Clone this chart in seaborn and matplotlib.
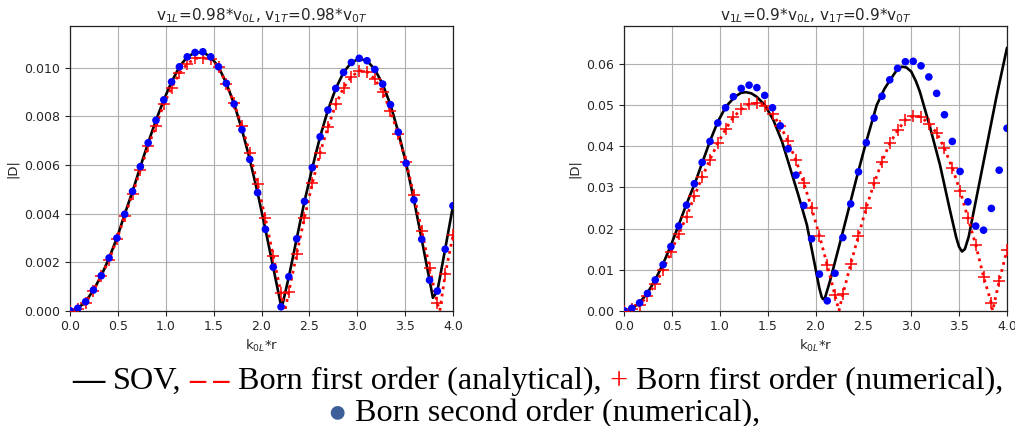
import numpy as np
import pandas as pd
import matplotlib
matplotlib.use("Agg")
import matplotlib.pyplot as plt
import seaborn as sns

# ---------------- data ----------------
k_samples = np.linspace(0.0, 4.0, 50)   # sample positions k0L*r of the numerical series

# left panel: v1L = 0.98 v0L
left_born2 = [0.0, 0.0001, 0.00037, 0.00085, 0.00144, 0.00217, 0.00299, 0.00397, 0.00491, 0.00593,
              0.00691, 0.00784, 0.00868, 0.00942, 0.01004, 0.01045, 0.01063, 0.01066, 0.01045, 0.01004,
              0.00936, 0.00851, 0.00745, 0.00623, 0.00486, 0.00335, 0.00179, 0.00016, 0.0014, 0.00296,
              0.0045, 0.00589, 0.00716, 0.00826, 0.00915, 0.00981, 0.01022, 0.01039, 0.01029, 0.00993,
              0.00933, 0.00848, 0.00735, 0.00607, 0.00456, 0.00294, 0.00126, 0.00081, 0.00253, 0.00432]
left_born1_num = [0.0, 0.00006, 0.00032, 0.00082, 0.00143, 0.00209, 0.00294, 0.0039, 0.0048, 0.00579,
                  0.00678, 0.0076, 0.00851, 0.00918, 0.00978, 0.01016, 0.01039, 0.01041, 0.01036, 0.01002,
                  0.00934, 0.00853, 0.0076, 0.00648, 0.00521, 0.0038, 0.00225, 0.00072, 0.00078, 0.00233,
                  0.00383, 0.00524, 0.0065, 0.00755, 0.00849, 0.00918, 0.00963, 0.00988, 0.00984, 0.00953,
                  0.00901, 0.00822, 0.00726, 0.00611, 0.00476, 0.00329, 0.00177, 0.0003, 0.0015, 0.0031]
left_sov_x = [0.0, 0.082, 0.163, 0.245, 0.327, 0.408, 0.49, 0.571, 0.653, 0.735, 0.816, 0.898, 0.98,
              1.061, 1.143, 1.224, 1.306, 1.388, 1.469, 1.551, 1.633, 1.714, 1.796, 1.878, 1.959, 2.041,
              2.122, 2.21, 2.286, 2.367, 2.449, 2.531, 2.612, 2.694, 2.776, 2.857, 2.939, 3.02, 3.102,
              3.184, 3.265, 3.347, 3.429, 3.51, 3.592, 3.673, 3.755, 3.79, 3.837, 3.918, 4.0]
left_sov_y = [0.0, 0.0001, 0.00037, 0.00085, 0.00144, 0.00217, 0.00299, 0.00397, 0.00491, 0.00593,
              0.00691, 0.00784, 0.00868, 0.00942, 0.01004, 0.01045, 0.01062, 0.01064, 0.01045, 0.01004,
              0.00936, 0.00851, 0.00745, 0.00623, 0.00486, 0.00335, 0.00179, 0.0001, 0.0014, 0.00296,
              0.0045, 0.00589, 0.00716, 0.00826, 0.00915, 0.00981, 0.01022, 0.01037, 0.01029, 0.00993,
              0.00933, 0.00848, 0.00735, 0.00607, 0.00456, 0.00294, 0.00126, 0.00053, 0.00081, 0.00253,
              0.00432]
left_born1_zero_x = [2.244, 3.862]      # where the analytical curve touches zero

# right panel: v1L = 0.9 v0L
right_born2 = [0.0, 0.0006, 0.0019, 0.0042, 0.0075, 0.0112, 0.0156, 0.0206, 0.0257, 0.0309,
               0.0361, 0.0412, 0.0457, 0.0494, 0.0521, 0.0541, 0.0549, 0.0543, 0.0524, 0.0494,
               0.0450, 0.0394, 0.0330, 0.0256, 0.0175, 0.0089, 0.0024, 0.0091, 0.0178, 0.0260,
               0.0338, 0.0409, 0.0469, 0.0522, 0.0562, 0.0590, 0.0606, 0.0607, 0.0596, 0.0569,
               0.0529, 0.0477, 0.0412, 0.0339, 0.0265, 0.0206, 0.0196, 0.0249, 0.0342, 0.0444]
right_born1_num = [0.0, 0.0003, 0.0014, 0.0036, 0.0065, 0.0099, 0.0143, 0.0186, 0.0229, 0.0278,
                   0.0325, 0.0368, 0.0408, 0.0442, 0.0471, 0.0490, 0.0503, 0.0505, 0.0499, 0.0479,
                   0.0450, 0.0412, 0.0366, 0.0311, 0.0250, 0.0183, 0.0111, 0.0037, 0.0040, 0.0113,
                   0.0183, 0.0251, 0.0310, 0.0363, 0.0407, 0.0439, 0.0464, 0.0474, 0.0472, 0.0455,
                   0.0433, 0.0395, 0.0347, 0.0292, 0.0226, 0.0160, 0.0083, 0.0018, 0.0072, 0.0148]
right_sov_x = [0.0, 0.08, 0.16, 0.245, 0.33, 0.41, 0.49, 0.57, 0.65, 0.74, 0.82, 0.9, 0.98, 1.065,
               1.16, 1.22, 1.273, 1.33, 1.385, 1.47, 1.56, 1.65, 1.73, 1.82, 1.91, 1.99, 2.04, 2.065,
               2.08, 2.10, 2.15, 2.29, 2.43, 2.52, 2.64, 2.72, 2.78, 2.85, 2.9, 2.95, 3.0, 3.05, 3.09,
               3.19, 3.3, 3.4, 3.47, 3.5, 3.53, 3.56, 3.6, 3.68, 3.79, 3.89, 4.0]
right_sov_y = [0.0, 0.0005, 0.0019, 0.0043, 0.0077, 0.0115, 0.0159, 0.0208, 0.0258, 0.031, 0.0362,
               0.0414, 0.046, 0.0497, 0.0521, 0.0530, 0.0532, 0.0529, 0.0521, 0.0501, 0.0464, 0.0412,
               0.0351, 0.0282, 0.0209, 0.0115, 0.0055, 0.0033, 0.0028, 0.0032, 0.0071, 0.0196, 0.0324,
               0.0403, 0.0501, 0.0540, 0.0562, 0.0586, 0.0594, 0.0592, 0.0582, 0.0558, 0.0533, 0.0452,
               0.0355, 0.0249, 0.0178, 0.0155, 0.0144, 0.0150, 0.0180, 0.0274, 0.0403, 0.0521, 0.0640]
right_born1_zero_x = [2.245, 3.85]

titles = [r"v$_{1L}$=0.98*v$_{0L}$, v$_{1T}$=0.98*v$_{0T}$",
          r"v$_{1L}$=0.9*v$_{0L}$, v$_{1T}$=0.9*v$_{0T}$"]
xlabel = r"k$_{0L}$*r"
ylabel = "|D|"
x_ticks = [0.0, 0.5, 1.0, 1.5, 2.0, 2.5, 3.0, 3.5, 4.0]
left_y_ticks = [0.0, 0.002, 0.004, 0.006, 0.008, 0.010]
right_y_ticks = [0.0, 0.01, 0.02, 0.03, 0.04, 0.05, 0.06]
ylims = [0.01172, 0.0693]

# ---------------- style ----------------
sns.set_theme(style="ticks", rc={
    "axes.grid": True, "grid.color": "#b0b0b0", "grid.linewidth": 0.8,
    "axes.edgecolor": "#222222", "axes.linewidth": 0.9,
    "xtick.labelsize": 9, "ytick.labelsize": 9,
    "xtick.major.size": 3.5, "ytick.major.size": 3.5,
    "xtick.major.width": 0.8, "ytick.major.width": 0.8,
    "text.color": "#262626", "xtick.color": "#262626", "ytick.color": "#262626",
})
plt.rcParams["font.family"] = ["DejaVu Sans"]

W, H = 1015, 426
fig = plt.figure(figsize=(W / 100, H / 100), dpi=100)
ax1 = fig.add_axes([70 / W, 115.3 / H, 383 / W, 284.7 / H])
ax2 = fig.add_axes([624 / W, 115.3 / H, 383 / W, 284.7 / H])


def analytical_curve(num_vals, zeros_x):
    df = pd.DataFrame({"x": list(k_samples) + list(zeros_x),
                       "y": list(num_vals) + [0.0] * len(zeros_x)})
    return df.sort_values("x")


panels = [
    (ax1, left_sov_x, left_sov_y, left_born1_num, left_born1_zero_x, left_born2, left_y_ticks),
    (ax2, right_sov_x, right_sov_y, right_born1_num, right_born1_zero_x, right_born2, right_y_ticks),
]
for i, (ax, sx, sy, b1, z, b2, yt) in enumerate(panels):
    sns.lineplot(x=sx, y=sy, ax=ax, color="black", linewidth=1.9, sort=False, estimator=None, zorder=2)
    sns.scatterplot(x=k_samples, y=b1, ax=ax, marker="+", color="red", s=70, linewidth=1.1, zorder=3)
    ana = analytical_curve(b1, z)
    sns.lineplot(data=ana, x="x", y="y", ax=ax, color="red", linewidth=2.0, linestyle=(0, (1, 1.6)),
                 sort=False, estimator=None, zorder=3)
    sns.scatterplot(x=k_samples, y=b2, ax=ax, color="blue", s=30, edgecolor="none", zorder=4)
    ax.set_xlim(0, 4.0)
    ax.set_ylim(0, ylims[i])
    ax.set_xticks(x_ticks)
    ax.set_yticks(yt)
    ax.set_title(titles[i], fontsize=11, pad=4)
    ax.set_xlabel(xlabel, fontsize=9.5, labelpad=3)
    ax.set_ylabel(ylabel, fontsize=9.5, labelpad=4)
    for s in ax.spines.values():
        s.set_visible(True)

# ---------------- caption ----------------
serif = "Liberation Serif"
blue_dot = "#3c5f99"
line1 = [("—", "black"), ("SOV,", "black"), ("– –", "red"), ("Born first order (analytical),", "black"),
         ("+", "red"), ("Born first order (numerical),", "black")]
line2 = [("●", blue_dot), ("Born second order (numerical),", "black")]

renderer = fig.canvas.get_renderer()


def measure(s, fs):
    t = fig.text(0, 0, s, fontsize=fs, family=serif)
    w = t.get_window_extent(renderer).width
    t.remove()
    return w


def line_width(pieces, fs):
    gap = measure("a a", fs) - measure("aa", fs)
    return sum(measure(s, fs) for s, _ in pieces) + gap * (len(pieces) - 1), gap


target = 931.0
fs = 20.0
w, _ = line_width(line1, fs)
fs = fs * target / w


def draw_line(pieces, fs, center_px, baseline_px):
    total, gap = line_width(pieces, fs)
    x = center_px - total / 2
    for s, c in pieces:
        weight = "bold" if s in ("—", "– –") else "normal"
        fig.text(x / W, (H - baseline_px) / H, s, fontsize=fs, family=serif, color=c,
                 va="baseline", fontweight=weight)
        x += measure(s, fs) + gap


draw_line(line1, fs, 537.5, 389)
draw_line(line2, fs, 543.5, 421)

fig.savefig("out.png", dpi=100)
